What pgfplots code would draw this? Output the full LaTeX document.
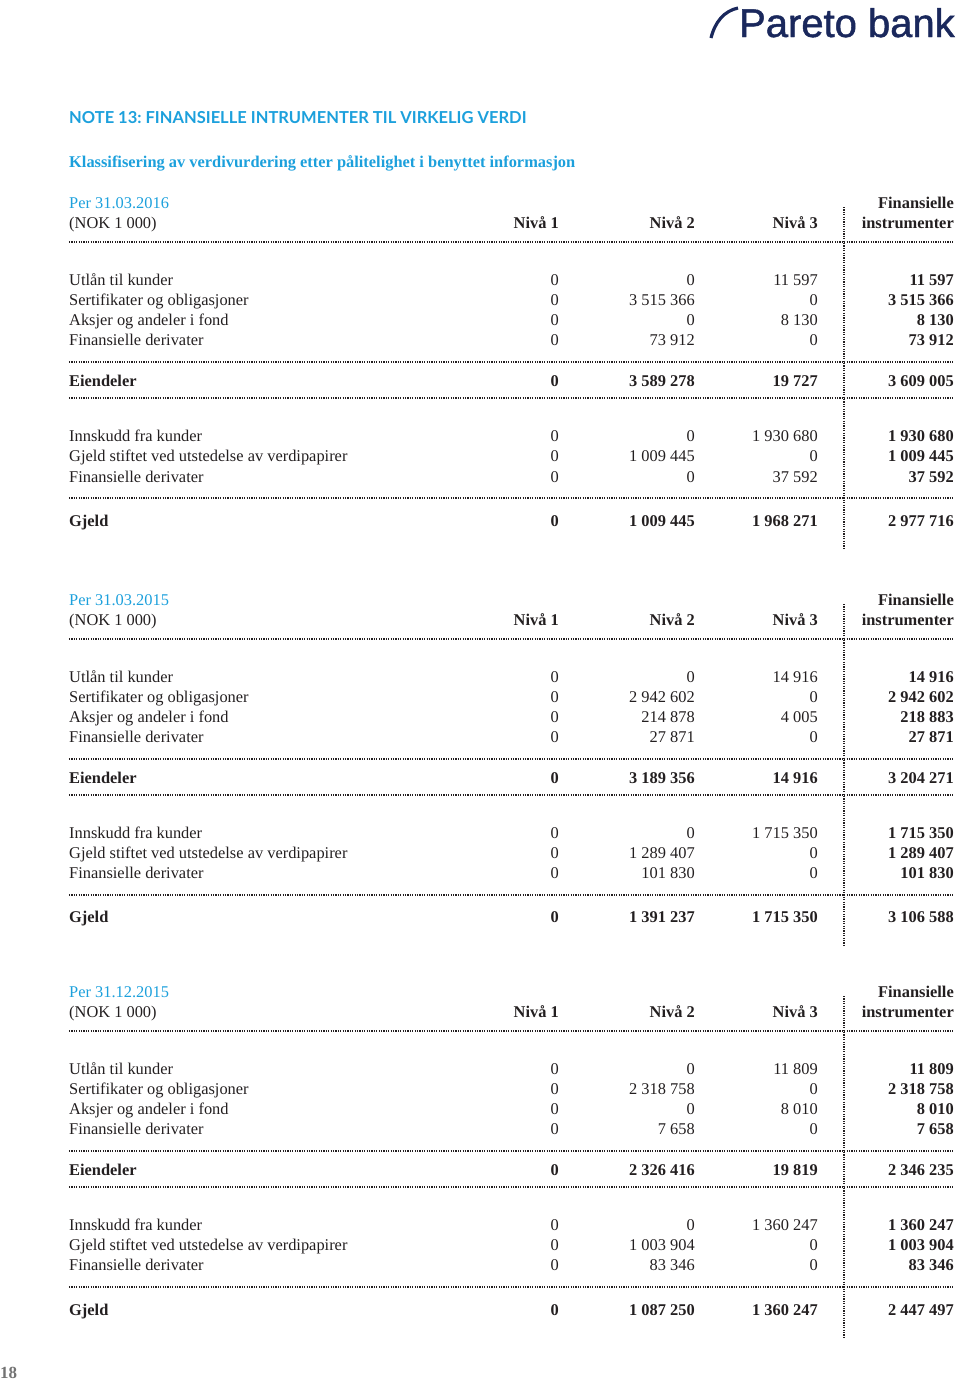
\documentclass[border=0pt]{standalone}
\usepackage{fontspec}
\setmainfont{Liberation Serif}
\newfontfamily\titlefont{Lato}
\newfontfamily\logofont[FakeBold=1.2]{Liberation Sans}
\usepackage{pgfplots}
\pgfplotsset{compat=1.18}
\definecolor{txt}{RGB}{35,31,32}
\definecolor{pcyan}{RGB}{28,160,220}
\definecolor{navy}{RGB}{26,40,92}
\tikzset{
  dl/.style={txt, line width=1.3bp, dash pattern=on 1.2bp off 1.2bp},
  L/.style={anchor=base west, inner sep=0pt, text=txt},
  R/.style={anchor=base east, inner sep=0pt, text=txt},
}
% one table row: baseline y, label, Nivaa 1, Nivaa 2, Nivaa 3, total
\newcommand{\datarow}[6]{%
  \node[L] at (axis cs:69,#1) {#2};
  \node[R] at (axis cs:559,#1) {#3};
  \node[R] at (axis cs:695,#1) {#4};
  \node[R] at (axis cs:818,#1) {#5};
  \node[R,font=\bfseries] at (axis cs:954,#1) {#6};}
\newcommand{\sumrow}[6]{%
  \node[L,font=\bfseries] at (axis cs:69,#1) {#2};
  \node[R,font=\bfseries] at (axis cs:559,#1) {#3};
  \node[R,font=\bfseries] at (axis cs:695,#1) {#4};
  \node[R,font=\bfseries] at (axis cs:818,#1) {#5};
  \node[R,font=\bfseries] at (axis cs:954,#1) {#6};}
\newcommand{\header}[3]{% #1 baseline of date line, #2 second line, #3 date
  \node[L,text=pcyan] at (axis cs:69,#1) {Per #3};
  \node[R,font=\bfseries] at (axis cs:954,#1) {Finansielle};
  \node[L] at (axis cs:69,#2) {(NOK 1 000)};
  \node[R,font=\bfseries] at (axis cs:559,#2) {Nivå 1};
  \node[R,font=\bfseries] at (axis cs:695,#2) {Nivå 2};
  \node[R,font=\bfseries] at (axis cs:818,#2) {Nivå 3};
  \node[R,font=\bfseries] at (axis cs:954,#2) {instrumenter};}
\newcommand{\hsep}[1]{\draw[dl] (axis cs:69,#1) -- (axis cs:954,#1);}
\newcommand{\vsep}[2]{\draw[dl] (axis cs:844,#1) -- (axis cs:844,#2);}
\begin{document}
\frenchspacing
\fontsize{16.4bp}{20bp}\selectfont
\begin{tikzpicture}
\begin{axis}[width=960bp, height=1380bp, scale only axis,
  xmin=0, xmax=960, ymin=0, ymax=1380, y dir=reverse,
  hide axis, clip=false]
\path (axis cs:0,0) rectangle (axis cs:960,1380);
% logo
\node[anchor=base east, inner sep=0pt, text=navy,
  font=\logofont\fontsize{40bp}{40bp}\selectfont] at (axis cs:955,37) {Pareto bank};
\draw[navy, line width=3.2bp] (axis cs:711,38) .. controls (axis cs:715,22) and (axis cs:724,11) .. (axis cs:738,8);
% titles
\node[L, text=pcyan, font=\titlefont\bfseries\fontsize{16.5bp}{18bp}\selectfont] at (axis cs:69,123) {NOTE 13: FINANSIELLE INTRUMENTER TIL VIRKELIG VERDI};
\node[L, text=pcyan, font=\bfseries] at (axis cs:69,167) {Klassifisering av verdivurdering etter pålitelighet i benyttet informasjon};
% ---- Per 31.03.2016
\header{208}{228}{31.03.2016}
\hsep{242}
\vsep{207}{548}
\datarow{285}{Utlån til kunder}{0}{0}{11 597}{11 597}
\datarow{305}{Sertifikater og obligasjoner}{0}{3 515 366}{0}{3 515 366}
\datarow{325}{Aksjer og andeler i fond}{0}{0}{8 130}{8 130}
\datarow{345}{Finansielle derivater}{0}{73 912}{0}{73 912}
\hsep{362}
\sumrow{386}{Eiendeler}{0}{3 589 278}{19 727}{3 609 005}
\hsep{398}
\datarow{441}{Innskudd fra kunder}{0}{0}{1 930 680}{1 930 680}
\datarow{461}{Gjeld stiftet ved utstedelse av verdipapirer}{0}{1 009 445}{0}{1 009 445}
\datarow{482}{Finansielle derivater}{0}{0}{37 592}{37 592}
\hsep{498}
\sumrow{526}{Gjeld}{0}{1 009 445}{1 968 271}{2 977 716}
% ---- Per 31.03.2015
\header{605}{625}{31.03.2015}
\hsep{639}
\vsep{604}{945}
\datarow{682}{Utlån til kunder}{0}{0}{14 916}{14 916}
\datarow{702}{Sertifikater og obligasjoner}{0}{2 942 602}{0}{2 942 602}
\datarow{722}{Aksjer og andeler i fond}{0}{214 878}{4 005}{218 883}
\datarow{742}{Finansielle derivater}{0}{27 871}{0}{27 871}
\hsep{759}
\sumrow{783}{Eiendeler}{0}{3 189 356}{14 916}{3 204 271}
\hsep{795}
\datarow{838}{Innskudd fra kunder}{0}{0}{1 715 350}{1 715 350}
\datarow{858}{Gjeld stiftet ved utstedelse av verdipapirer}{0}{1 289 407}{0}{1 289 407}
\datarow{878}{Finansielle derivater}{0}{101 830}{0}{101 830}
\hsep{895}
\sumrow{922}{Gjeld}{0}{1 391 237}{1 715 350}{3 106 588}
% ---- Per 31.12.2015
\header{997}{1017}{31.12.2015}
\hsep{1031}
\vsep{996}{1337}
\datarow{1074}{Utlån til kunder}{0}{0}{11 809}{11 809}
\datarow{1094}{Sertifikater og obligasjoner}{0}{2 318 758}{0}{2 318 758}
\datarow{1114}{Aksjer og andeler i fond}{0}{0}{8 010}{8 010}
\datarow{1134}{Finansielle derivater}{0}{7 658}{0}{7 658}
\hsep{1151}
\sumrow{1175}{Eiendeler}{0}{2 326 416}{19 819}{2 346 235}
\hsep{1187}
\datarow{1230}{Innskudd fra kunder}{0}{0}{1 360 247}{1 360 247}
\datarow{1250}{Gjeld stiftet ved utstedelse av verdipapirer}{0}{1 003 904}{0}{1 003 904}
\datarow{1270}{Finansielle derivater}{0}{83 346}{0}{83 346}
\hsep{1287}
\sumrow{1315}{Gjeld}{0}{1 087 250}{1 360 247}{2 447 497}
% page number
\node[L, text=black!55, font=\bfseries\fontsize{17bp}{17bp}\selectfont] at (axis cs:0,1378) {18};
\end{axis}
\end{tikzpicture}
\end{document}
